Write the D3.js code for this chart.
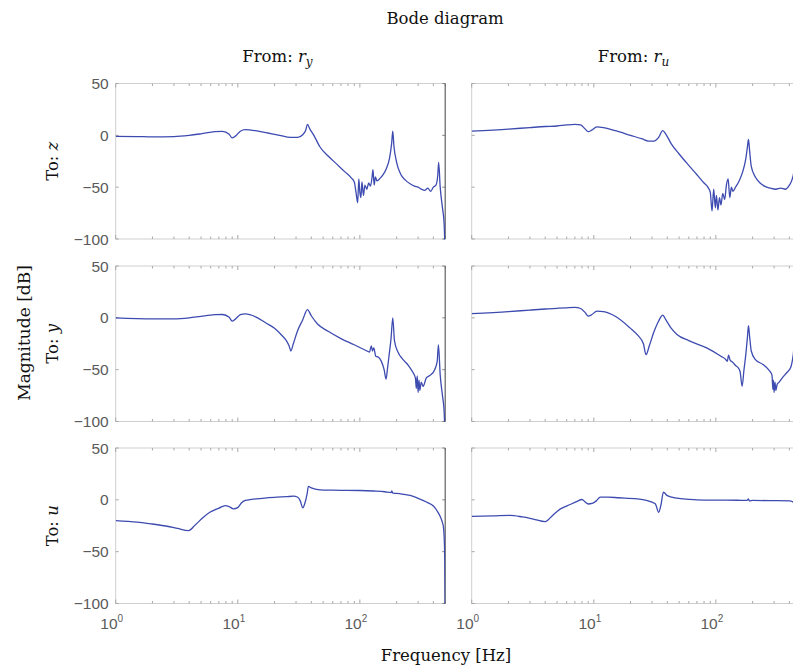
<!DOCTYPE html>
<html>
<head>
<meta charset="utf-8">
<script src="https://cdn.jsdelivr.net/npm/d3@7"></script>
<style>
  html, body { margin: 0; padding: 0; background: #fff; overflow: hidden; }
  svg { display: block; }
</style>
</head>
<body>
<svg id="chart" width="793" height="667"></svg>
<script>
// Magnitude responses, frequency in Hz, magnitude in dB
const freqZry = [1, 1.5, 2, 3, 4, 5, 6.5, 7.5, 8.5, 9, 9.5, 10.5, 11.5, 14, 18, 22, 27, 31, 34, 36, 37.2, 39, 42, 47, 55, 65, 75, 85, 90, 93, 96, 98, 100, 102, 104, 107, 110, 114, 118, 122, 126, 128, 131, 134, 138, 145, 155, 165, 175, 182, 186, 190, 200, 215, 235, 260, 280, 300, 320, 340, 360, 380, 400, 420, 435, 442, 455, 475, 490, 500];
const magZry  = [-1, -1.2, -1.5, -1.2, 0, 1.5, 3.5, 3.8, 1, -2.5, -1, 4, 5.5, 4.5, 2, 0, -2, -2, 0.5, 5, 10.5, 6, 0, -11, -20, -28, -35, -41, -45, -55, -65, -42, -55, -60, -45, -58, -48, -52, -46, -49, -40, -33, -48, -40, -44, -42, -38, -32, -22, -8, 4, -10, -26, -37, -43, -47, -49, -50, -52, -53, -51, -54, -50, -48, -38, -26, -50, -70, -85, -120];

const freqZru = [1, 2, 3, 4, 5, 6, 7, 7.8, 8.5, 9, 9.6, 10.6, 12, 15, 20, 25, 28, 31, 34, 36.7, 39, 43, 50, 60, 70, 80, 86, 90, 93, 96, 99, 101, 104, 107, 110, 114, 118, 122, 126, 130, 134, 138, 145, 155, 165, 175, 181, 185, 189, 195, 210, 230, 250, 280, 310, 340, 370, 400, 420, 435, 442, 455, 475, 490, 500];
const magZru  = [4, 6, 7.5, 8.5, 9, 10, 10.5, 10, 6, 3.5, 5, 8.2, 7.5, 4.5, 0, -3.5, -5.5, -5.5, -2, 4.5, 1, -8, -18, -29, -38, -46, -50, -55, -73, -52, -70, -58, -72, -60, -67, -56, -62, -48, -42, -60, -50, -54, -50, -44, -36, -24, -12, -4, -15, -30, -40, -46, -49, -51, -52, -51, -52, -48, -43, -35, -20, -45, -70, -88, -120];

const freqYry = [1, 2, 3, 4, 5, 6.5, 7.5, 8.5, 9, 9.5, 10.5, 11.5, 14, 17, 20, 23, 25, 26.5, 27.2, 28.5, 31, 34, 37.2, 40, 45, 55, 70, 90, 110, 120, 124, 127, 130, 135, 142, 150, 158, 164, 168, 174, 180, 186, 192, 205, 225, 250, 270, 285, 290, 295, 300, 305, 310, 318, 330, 350, 380, 410, 430, 440, 455, 475, 490, 500];
const magYry  = [0, -1, -1, 0, 1.5, 3, 3.2, 0.5, -3.2, -1.5, 3, 3.8, 1, -5, -10, -17, -22, -28, -32, -25, -12, -2, 8, 2, -6, -13, -20, -26, -31, -33, -27, -32, -29, -37, -38, -42, -50, -59, -50, -35, -20, 0, -22, -33, -40, -46, -52, -58, -68, -56, -72, -60, -70, -62, -66, -58, -55, -50, -42, -26, -55, -75, -90, -120];

const freqYru = [1, 2, 3, 4, 5, 6, 7, 7.8, 8.5, 9, 9.6, 10.6, 12, 15, 19.8, 23, 25.5, 26.8, 28.5, 31, 34, 36.7, 39, 43, 48, 60, 84, 110, 120, 124, 127, 131, 138, 145, 152, 158, 164, 170, 176, 181, 185, 189, 195, 210, 243, 270, 288, 293, 296, 300, 305, 310, 318, 330, 350, 380, 410, 430, 440, 455, 475, 490, 500];
const magYru  = [4, 6, 7.5, 8.5, 9.2, 9.7, 10, 9, 5, 1.6, 3, 6.4, 6, 1.5, -9.7, -17, -25, -35.5, -27, -14, -3, 2.6, -2, -10, -16, -22, -29, -37, -40, -42, -36, -41, -43, -46, -48, -52, -66, -50, -35, -20, -7.5, -18, -32, -40, -45, -50, -55, -69, -60, -72, -62, -70, -64, -62, -58, -53, -48, -36, -26, -50, -72, -88, -120];

const freqUry = [1, 1.5, 1.9, 2.5, 3.2, 3.94, 4.5, 5.2, 5.9, 7, 7.9, 8.5, 9.2, 10, 10.7, 11.5, 13, 16, 20.9, 25, 28.6, 31, 32.5, 34.1, 35.5, 37, 37.9, 40, 47, 60, 80, 100, 130, 160, 180, 183, 186, 200, 230, 258, 300, 354, 400, 427, 455, 475, 484, 492, 496, 500];
const magUry  = [-20, -21.5, -23, -25, -27.5, -29.7, -24, -17, -12, -8, -5.5, -6.5, -8.7, -7.5, -3, -0.6, 0.5, 1.5, 2.6, 3, 3.5, 2.5, -1, -7.7, -3, 6, 12.9, 11.5, 9.7, 9.3, 9.1, 9, 8.5, 7.8, 7, 8.5, 6.5, 6.2, 5.2, 4.2, 1.5, -2.3, -6, -10.3, -16, -22, -26.5, -40, -60, -120];

const freqUru = [1, 1.5, 2.06, 2.6, 3.2, 4, 4.6, 5.3, 6.4, 7.3, 8, 8.5, 9, 9.7, 10.5, 11.3, 13, 16, 22.5, 27, 30, 32, 34, 35.5, 37.2, 40, 48, 60, 70, 100, 150, 180, 185, 188, 200, 300, 400, 440, 470, 490, 500];
const magUru  = [-16, -15.5, -15, -16.5, -18.5, -21, -15, -9, -4.5, -1.5, 0.3, -2, -4, -3.5, -1, 2.6, 2.6, 2, 1, -0.5, -2.3, -4, -12, -5, 7.4, 4, 1.6, 0.5, 0, -0.3, -0.4, -0.5, 1, -1, -0.6, -0.8, -1, -3, -10, -30, -120];

const inputs  = ["y", "u"];          // subscripts of r in the column headers
const outputs = ["z", "y", "u"];     // row labels
const yTicks  = [50, 0, -50, -100];
const xTicks  = [1, 10, 100];
const xTickExp = ["0", "1", "2"];

const panels = [
  [[freqZry, magZry], [freqZru, magZru]],
  [[freqYry, magYry], [freqYru, magYru]],
  [[freqUry, magUry], [freqUru, magUru]]
];

// layout
const colX = [115.7, 471.7];
const panelW = 329.5;
const rowY = [83.5, 266, 448];
const panelH = 155.5;

const svg = d3.select("#chart");
const serif = "'DejaVu Serif', 'Liberation Serif', serif";
const sans = "'Liberation Sans', Arial, sans-serif";
const lineColor = "#3d4bb0";
const labelSize = 16.5;

const defs = svg.append("defs");

panels.forEach((row, r) => {
  row.forEach(([freq, mag], c) => {
    const x = d3.scaleLog().domain([1, 500]).range([colX[c], colX[c] + panelW]);
    const y = d3.scaleLinear().domain([-100, 50]).range([rowY[r] + panelH, rowY[r]]);
    const g = svg.append("g");
    const id = `clip-${r}-${c}`;
    defs.append("clipPath").attr("id", id)
      .append("rect").attr("x", colX[c]).attr("y", rowY[r] - 1)
      .attr("width", panelW).attr("height", panelH + 1.5);

    // frame
    g.append("rect")
      .attr("x", colX[c]).attr("y", rowY[r])
      .attr("width", panelW).attr("height", panelH)
      .attr("fill", "none").attr("stroke", "#cfcfcf").attr("stroke-width", 1);

    // minor/major ticks on top and bottom
    const minor = [];
    for (let d = 1; d <= 100; d *= 10) {
      for (let k = 1; k <= 9; k++) { const v = d * k; if (v <= 500) minor.push(v); }
    }
    [y.range()[0], y.range()[1]].forEach((yy, i) => {
      g.selectAll(null).data(minor).join("line")
        .attr("x1", d => x(d)).attr("x2", d => x(d))
        .attr("y1", yy).attr("y2", d => yy + (i === 0 ? -1 : 1) * (xTicks.includes(d) ? 4 : 2.5))
        .attr("stroke", "#a8a8a8").attr("stroke-width", 1);
    });
    // y ticks left and right
    g.selectAll(null).data(yTicks).join("line")
      .attr("x1", colX[c]).attr("x2", colX[c] + 3)
      .attr("y1", d => y(d)).attr("y2", d => y(d))
      .attr("stroke", "#a8a8a8");
    g.selectAll(null).data(yTicks).join("line")
      .attr("x1", colX[c] + panelW).attr("x2", colX[c] + panelW - 3)
      .attr("y1", d => y(d)).attr("y2", d => y(d))
      .attr("stroke", "#888");

    // darker right edge
    g.append("line")
      .attr("x1", colX[c] + panelW).attr("x2", colX[c] + panelW)
      .attr("y1", rowY[r]).attr("y2", rowY[r] + panelH)
      .attr("stroke", "#555").attr("stroke-width", 1);

    // magnitude curve
    const pts = freq.map((f, i) => [f, mag[i]]);
    g.append("path")
      .attr("clip-path", `url(#${id})`)
      .attr("d", d3.line().x(d => x(d[0])).y(d => y(d[1])).curve(d3.curveMonotoneX)(pts))
      .attr("fill", "none").attr("stroke", lineColor).attr("stroke-width", 1.3)
      .attr("stroke-linejoin", "round");

    // y tick labels on the left column
    if (c === 0) {
      g.selectAll(null).data(yTicks).join("text")
        .attr("x", colX[c] - 7).attr("y", d => y(d) + 5.5)
        .attr("text-anchor", "end")
        .attr("font-family", sans).attr("font-size", 15.5).attr("fill", "#5a5a5a")
        .text(d => d < 0 ? "\u2212" + Math.abs(d) : d);
    }
    // x tick labels on the bottom row
    if (r === 2) {
      xTicks.forEach((t, i) => {
        const tx = g.append("text")
          .attr("x", x(t) - 4).attr("y", rowY[r] + panelH + 25)
          .attr("text-anchor", "middle")
          .attr("font-family", sans).attr("font-size", 15.5).attr("fill", "#5a5a5a");
        tx.append("tspan").text("10");
        tx.append("tspan").attr("font-size", 10).attr("dy", -7).text(xTickExp[i]);
      });
    }
  });
});

// titles
svg.append("text").attr("x", 445).attr("y", 24).attr("text-anchor", "middle")
  .attr("font-family", serif).attr("font-size", labelSize).attr("fill", "#111").text("Bode diagram");

inputs.forEach((s, c) => {
  const t = svg.append("text")
    .attr("x", colX[c] + panelW / 2 - 3).attr("y", 62)
    .attr("text-anchor", "middle")
    .attr("font-family", serif).attr("font-size", labelSize).attr("fill", "#111");
  t.append("tspan").text("From: ");
  t.append("tspan").attr("font-style", "italic").text("r");
  t.append("tspan").attr("font-style", "italic").attr("font-size", 12).attr("dy", 4).text(s);
});

outputs.forEach((s, r) => {
  const cy = rowY[r] + panelH / 2;
  const t = svg.append("text")
    .attr("transform", `translate(58,${cy}) rotate(-90)`)
    .attr("text-anchor", "middle")
    .attr("font-family", serif).attr("font-size", labelSize).attr("fill", "#111");
  t.append("tspan").text("To: ");
  t.append("tspan").attr("font-style", "italic").text(s);
});

svg.append("text")
  .attr("transform", "translate(30,333) rotate(-90)")
  .attr("text-anchor", "middle")
  .attr("font-family", serif).attr("font-size", labelSize + 0.5).attr("fill", "#111")
  .text("Magnitude [dB]");

svg.append("text").attr("x", 446).attr("y", 661).attr("text-anchor", "middle")
  .attr("font-family", serif).attr("font-size", labelSize).attr("fill", "#111")
  .text("Frequency [Hz]");
</script>
</body>
</html>
